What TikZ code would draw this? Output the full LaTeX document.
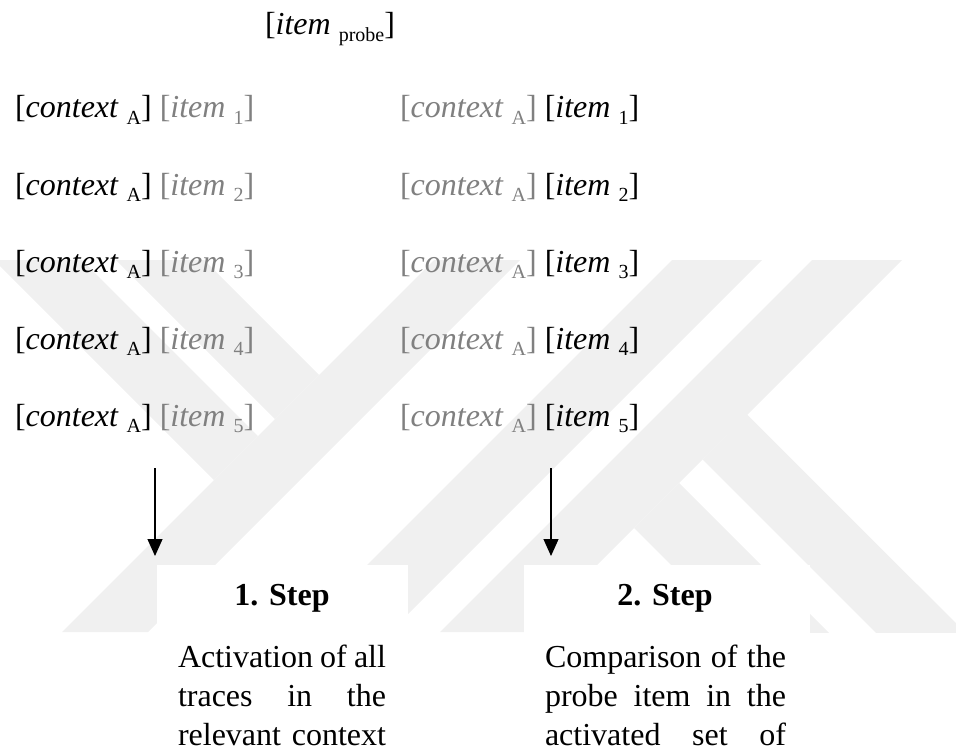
\documentclass[tikz,border=0pt]{standalone}
\usepackage{fontspec}
\setmainfont{Liberation Serif}
\usetikzlibrary{arrows.meta}

\definecolor{wmgrey}{HTML}{F0F0F0}
\definecolor{fadetext}{HTML}{808080}
\newcommand{\lowsub}[1]{\raisebox{-3.4pt}{\fontsize{10}{10}\selectfont #1}}
\newcommand{\jline}[2]{\makebox[#1][s]{#2}}

\begin{document}
\begin{tikzpicture}[x=0.5pt,y=-0.5pt,
  every node/.style={inner sep=0pt,outer sep=0pt,font=\fontsize{16}{19.5}\selectfont},
  trace/.style={anchor=base west},
  steptitle/.style={anchor=base,font=\fontsize{16}{19.5}\selectfont\bfseries},
  steparrow/.style={-{Triangle[width=7.5pt,length=8.5pt]},line width=0.6pt}]
\useasboundingbox (0,0) rectangle (956,749);

% faint logo in the background
\begin{scope}
  \clip (0,260) rectangle (956,632);
  \fill[wmgrey] (-6,260) -- (82,260) -- (258,436) -- (214,480) -- cycle;
  \fill[wmgrey] (116,260) -- (204,260) -- (319,375) -- (275,419) -- cycle;
  \fill[wmgrey] (434,260) -- (520,260) -- (148,632) -- (62,632) -- cycle;
  \fill[wmgrey] (672,260) -- (762,260) -- (390,632) -- (300,632) -- cycle;
  \fill[wmgrey] (812,260) -- (902,260) -- (530,632) -- (440,632) -- cycle;
  \fill[wmgrey] (747,414.5) -- (1100,767) -- (1010,767) -- (702.5,459.5) -- cycle;
  \fill[wmgrey] (679,483) -- (964,768) -- (874,768) -- (634,528) -- cycle;
\end{scope}
\fill[white] (157,565) rectangle (408,640);
\fill[white] (524,565) rectangle (810,640);

\node[anchor=base] (probe) at (330,35) {[\textit{item} \lowsub{probe}]};

\foreach \n/\yy in {1/118,2/195,3/272,4/349,5/426}{
  \node[trace] (oldL\n) at (15,\yy)
    {[\textit{context} \lowsub{A}] \textcolor{fadetext}{[\textit{item} \lowsub{\n}]}};
  \node[trace] (newR\n) at (400,\yy)
    {\textcolor{fadetext}{[\textit{context} \lowsub{A}]} [\textit{item} \lowsub{\n}]};
}

\coordinate (a1top) at (155,468);
\coordinate (a1tip) at (155,556);
\coordinate (a2top) at (551,468);
\coordinate (a2tip) at (551,556);
\draw[steparrow] (a1top) -- (a1tip);
\draw[steparrow] (a2top) -- (a2tip);

\node[steptitle] (step1) at (282,605) {1. Step};
\node[steptitle] (step2) at (665,605) {2. Step};

% step texts, every line justified
\node[trace] (act1) at (178,667) {\jline{104pt}{Activation of all}};
\node[trace] (act2) at (178,706) {\jline{104pt}{traces in the}};
\node[trace] (act3) at (178,745) {\jline{104pt}{relevant context}};
\node[trace] (cmp1) at (545,667) {\jline{120.5pt}{Comparison of the}};
\node[trace] (cmp2) at (545,706) {\jline{120.5pt}{probe item in the}};
\node[trace] (cmp3) at (545,745) {\jline{120.5pt}{activated set of}};
\end{tikzpicture}
\end{document}
